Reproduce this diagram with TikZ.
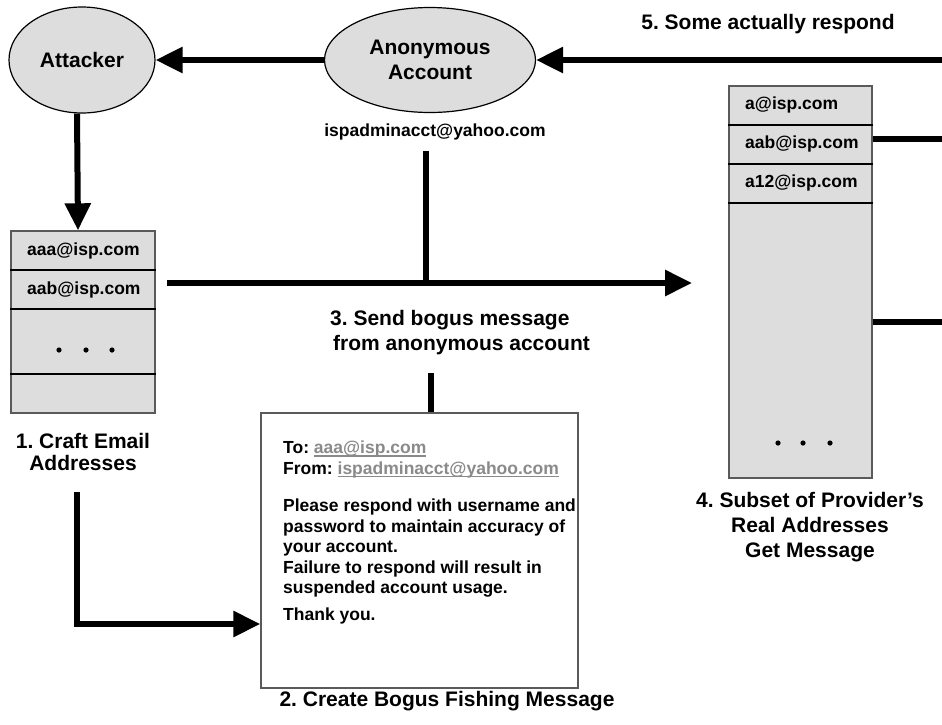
\documentclass[tikz,border=0pt]{standalone}
\usepackage{fontspec}
\setmainfont{Liberation Sans}
\usepackage{tikz}
\usetikzlibrary{shapes.geometric, arrows.meta}
\frenchspacing
\definecolor{boxgray}{HTML}{DDDDDD}
\definecolor{framegray}{HTML}{5A5A5A}
\definecolor{linkgray}{HTML}{8A8A8A}
\tikzset{
  party/.style={ellipse, draw=black, line width=1.2pt, fill=boxgray, align=center, font=\fontsize{21}{25}\selectfont\bfseries},
  addrlist/.style={rectangle, draw=framegray, line width=1.4pt, fill=boxgray, inner sep=0pt},
  addr/.style={anchor=west, inner sep=0pt, font=\fontsize{17.5}{21}\selectfont\bfseries},
  caption/.style={align=center, inner sep=0pt, font=\fontsize{21}{25}\selectfont\bfseries},
  flow/.style={line width=6pt},
  arrow/.style={flow, -{Triangle[length=27pt,width=25pt]}},
  divider/.style={line width=2pt}
}
\newsavebox{\linkbox}
\newcommand{\maillink}[1]{\sbox{\linkbox}{\color{linkgray}#1}%
  \textcolor{linkgray}{\rlap{\rule[-3pt]{\wd\linkbox}{1.5pt}}}\usebox{\linkbox}}

\begin{document}
\begin{tikzpicture}[x=1pt, y=-1pt]
		\useasboundingbox (0,0) rectangle (942,724);
		% the two accounts
		\node[party, minimum width=146pt, minimum height=106pt] (attacker) at (82,60) {Attacker};
		\node[party, minimum width=211pt, minimum height=105pt] (anon) at (430,60) {Anonymous\\Account};
		\node[addr, anchor=center] (anonmail) at (435,132) {ispadminacct@yahoo.com};
		\node[caption] (resplbl) at (768,24) {5. Some actually respond};
		% crafted addresses
		\node[addrlist, minimum width=144pt, minimum height=182pt] (craft) at (83,322) {};
		\node[addr] (craft1) at (27,251) {aaa@isp.com};
		\node[addr] (craft2) at (27,290) {aab@isp.com};
		\foreach \y in {270,309,374} \draw[divider] (craft.west |- 0,\y) -- (craft.east |- 0,\y);
		\foreach \x in {59,86,112} \fill (\x,350) circle (2.6pt);
		\node[caption, font=\fontsize{21}{22}\selectfont\bfseries] (craftlbl) at (83,452) {1. Craft Email\\Addresses};
		% provider's real addresses
		\node[addrlist, minimum width=143pt, minimum height=392pt] (real) at (800.5,282) {};
		\node[addr] (real1) at (745,105) {a@isp.com};
		\node[addr] (real2) at (745,144) {aab@isp.com};
		\node[addr] (real3) at (745,183) {a12@isp.com};
		\foreach \y in {125,164,203} \draw[divider] (real.west |- 0,\y) -- (real.east |- 0,\y);
		\foreach \x in {778,803,830} \fill (\x,443) circle (2.6pt);
		\node[caption] (reallbl) at (810,527) {4. Subset of Provider’s\\Real Addresses\\Get Message};
		% bogus message
		\node[rectangle, draw=framegray, line width=1.4pt, fill=white, minimum width=317pt, minimum height=275pt] (msg) at (419.5,550.5) {};
		\node[anchor=north west, align=left, inner sep=0pt, font=\fontsize{17.5}{20.5}\selectfont\bfseries] (msgtext) at (283,441)
			{To: \maillink{aaa@isp.com}\\
			 From: \maillink{ispadminacct@yahoo.com}\\[17pt]
			 Please respond with username and\\
			 password to maintain accuracy of\\
			 your account.\\
			 Failure to respond will result in\\
			 suspended account usage.\\[6.5pt]
			 Thank you.};
		\node[caption] (msglbl) at (447,701) {2. Create Bogus Fishing Message};
		\node[caption, align=left, anchor=west] (sendlbl) at (330,333) {3. Send bogus message\\\hspace{3pt}from anonymous account};
		% connectors
		\coordinate (respin) at (942,60);
		\coordinate (mailtap) at (426,151);
		\coordinate (sendfrom) at (167,283);
		\coordinate (sendto) at (692,283);
		\coordinate (msgtap) at (431,373);
		\coordinate (elbow) at (77,492);
		\coordinate (bend) at (77,624);
		\coordinate (out1) at (942,139);
		\coordinate (out2) at (942,322);
		\draw[arrow] (respin) -- (anon.east);
		\draw[arrow] (anon.west) -- (attacker.east);
		\draw[arrow] ([xshift=-5pt]attacker.south) -- ([xshift=-5pt]craft.north);
		\draw[arrow] (sendfrom) -- (sendto);
		\draw[flow] (mailtap) -- (mailtap |- sendfrom);
		\draw[flow] (msgtap) -- (msgtap |- msg.north);
		\draw[arrow] (elbow) -- (bend) -- (bend -| msg.west);
		\draw[flow] (out1 -| real.east) -- (out1);
		\draw[flow] (out2 -| real.east) -- (out2);
	\end{tikzpicture}
\end{document}
